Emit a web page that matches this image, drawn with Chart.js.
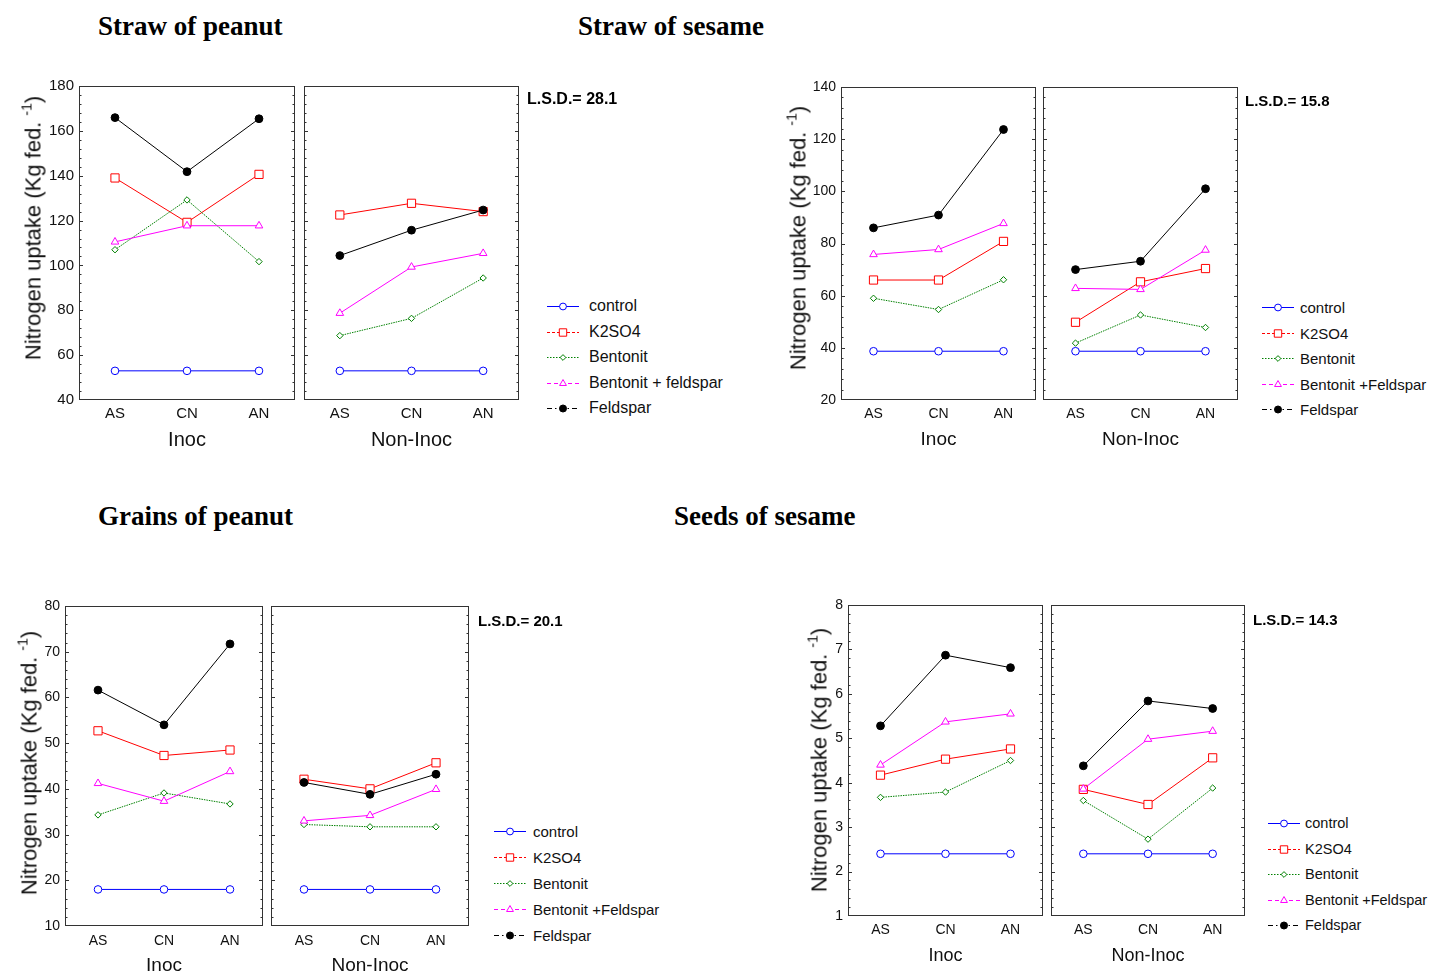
<!DOCTYPE html>
<html>
<head>
<meta charset="utf-8">
<script src="https://cdn.jsdelivr.net/npm/chart.js@4/dist/chart.umd.min.js"></script>
<style>
  body { margin: 0; background: #fff; width: 1435px; height: 974px; position: relative; overflow: hidden;
         font-family: "Liberation Sans", Arial, sans-serif; color: #111; }
  .title { position: absolute; font-family: "Liberation Serif", "Times New Roman", serif; font-weight: bold;
           font-size: 27px; line-height: 1; transform: translateY(-50%); white-space: nowrap; color: #000; }
  .ytitle { position: absolute; transform: translate(-50%, -50%) rotate(-90deg); white-space: nowrap;
            font-size: 22px; line-height: 1; }
  .ytitle sup { font-size: 14px; vertical-align: 9px; }
  .lsd { position: absolute; font-weight: bold; transform: translateY(-50%); white-space: nowrap; color: #000; }
  .leg { position: absolute; white-space: nowrap; line-height: 1; }
  .leg span { position: absolute; transform: translateY(-50%); }
  canvas.plot { position: absolute; }
</style>
</head>
<body>
<script>
// categories on the x axis of every sub-panel
const categories = ['AS', 'CN', 'AN'];
const groupLabels = ['Inoc', 'Non-Inoc'];

// legend names (first panel writes the mix a bit differently)
const namesPeanutStraw = ['control', 'K2SO4', 'Bentonit', 'Bentonit + feldspar', 'Feldspar'];
const namesOther = ['control', 'K2SO4', 'Bentonit', 'Bentonit +Feldspar', 'Feldspar'];

// values: Inoc AS, CN, AN  then  Non-Inoc AS, CN, AN
// Straw of peanut
const peanutStrawControl  = [53, 53, 53, 53, 53, 53];
const peanutStrawK2SO4    = [139, 119.2, 140.6, 122.5, 127.7, 124];
const peanutStrawBentonit = [107, 129.2, 101.7, 68.7, 76.4, 94.4];
const peanutStrawBentFeld = [110.5, 117.7, 117.7, 78.7, 99.3, 105.4];
const peanutStrawFeldspar = [165.9, 141.8, 165.4, 104.4, 115.7, 124.7];
const peanutStrawTicks = [40, 60, 80, 100, 120, 140, 160, 180];

// Straw of sesame
const sesameStrawControl  = [38.7, 38.7, 38.7, 38.7, 38.7, 38.7];
const sesameStrawK2SO4    = [66, 66, 80.8, 49.8, 65.3, 70.4];
const sesameStrawBentonit = [59, 54.7, 66.1, 41.8, 52.6, 47.8];
const sesameStrawBentFeld = [75.8, 77.7, 87.7, 62.8, 62.4, 77.5];
const sesameStrawFeldspar = [86, 90.9, 123.7, 70, 73.2, 101];
const sesameStrawTicks = [20, 40, 60, 80, 100, 120, 140];

// Grains of peanut
const peanutGrainControl  = [18, 18, 18, 18, 18, 18];
const peanutGrainK2SO4    = [52.7, 47.3, 48.5, 42.1, 40, 45.7];
const peanutGrainBentonit = [34.3, 39.1, 36.7, 32.2, 31.7, 31.7];
const peanutGrainBentFeld = [41.2, 37.3, 43.8, 33, 34.2, 39.9];
const peanutGrainFeldspar = [61.6, 54, 71.7, 41.4, 38.8, 43.2];
const peanutGrainTicks = [10, 20, 30, 40, 50, 60, 70, 80];

// Seeds of sesame
const sesameSeedControl  = [2.4, 2.4, 2.4, 2.4, 2.4, 2.4];
const sesameSeedK2SO4    = [4.17, 4.53, 4.76, 3.85, 3.51, 4.56];
const sesameSeedBentonit = [3.67, 3.79, 4.5, 3.6, 2.73, 3.88];
const sesameSeedBentFeld = [4.4, 5.37, 5.55, 3.86, 4.98, 5.16];
const sesameSeedFeldspar = [5.28, 6.87, 6.59, 4.38, 5.84, 5.67];
const sesameSeedTicks = [1, 2, 3, 4, 5, 6, 7, 8];

const FONT = '"Liberation Sans", Arial, sans-serif';

const seriesStyles = [
  { color: '#0000ff', point: 'circle',   fill: '#ffffff', r: 3.8, dash: [],       legendDash: [] },
  { color: '#ff0000', point: 'rect',     fill: '#ffffff', r: 5.8, dash: [],       legendDash: [3, 2] },
  { color: '#008000', point: 'rectRot',  fill: '#ffffff', r: 3.2, dash: [1.5, 1], legendDash: [1.5, 1.5] },
  { color: '#ff00ff', point: 'triangle', fill: '#ffffff', r: 4.4, dash: [],       legendDash: [4, 3] },
  { color: '#000000', point: 'circle',   fill: '#000000', r: 3.9, dash: [],       legendDash: [5, 3, 1.5, 3] },
];

const panels = [
  {
    title: 'Straw of peanut', titleX: 98, titleY: 26,
    lsd: 'L.S.D.= 28.1', lsdX: 527, lsdY: 99, lsdSize: 16,
    ytitleX: 32, ytitleY: 228,
    boxes: [{ x: 79, y: 86, w: 216, h: 314 }, { x: 304, y: 86, w: 215, h: 314 }],
    ticks: peanutStrawTicks, tickSize: 15, xTickOff: 14, xTitleSize: 20, xTitleOff: 40,
    names: namesPeanutStraw,
    legend: { x: 546, tx: 589, y: 306, dy: 25.5, size: 16 },
    series: [peanutStrawControl, peanutStrawK2SO4, peanutStrawBentonit, peanutStrawBentFeld, peanutStrawFeldspar],
  },
  {
    title: 'Straw of sesame', titleX: 578, titleY: 26,
    lsd: 'L.S.D.= 15.8', lsdX: 1245, lsdY: 100, lsdSize: 15,
    ytitleX: 797, ytitleY: 238,
    boxes: [{ x: 841, y: 87, w: 195, h: 313 }, { x: 1043, y: 87, w: 195, h: 313 }],
    ticks: sesameStrawTicks, tickSize: 14, xTickOff: 14, xTitleSize: 19, xTitleOff: 40,
    names: namesOther,
    legend: { x: 1261, tx: 1300, y: 307, dy: 25.5, size: 15 },
    series: [sesameStrawControl, sesameStrawK2SO4, sesameStrawBentonit, sesameStrawBentFeld, sesameStrawFeldspar],
  },
  {
    title: 'Grains of peanut', titleX: 98, titleY: 516,
    lsd: 'L.S.D.= 20.1', lsdX: 478, lsdY: 620, lsdSize: 15,
    ytitleX: 28, ytitleY: 763,
    boxes: [{ x: 65, y: 606, w: 198, h: 320 }, { x: 271, y: 606, w: 198, h: 320 }],
    ticks: peanutGrainTicks, tickSize: 14, xTickOff: 15, xTitleSize: 19, xTitleOff: 40,
    names: namesOther,
    legend: { x: 493, tx: 533, y: 831, dy: 26, size: 15 },
    series: [peanutGrainControl, peanutGrainK2SO4, peanutGrainBentonit, peanutGrainBentFeld, peanutGrainFeldspar],
  },
  {
    title: 'Seeds of sesame', titleX: 674, titleY: 516,
    lsd: 'L.S.D.= 14.3', lsdX: 1253, lsdY: 619, lsdSize: 15,
    ytitleX: 818, ytitleY: 760,
    boxes: [{ x: 848, y: 605, w: 195, h: 311 }, { x: 1051, y: 605, w: 194, h: 311 }],
    ticks: sesameSeedTicks, tickSize: 14, xTickOff: 14, xTitleSize: 18, xTitleOff: 40,
    names: namesOther,
    legend: { x: 1267, tx: 1305, y: 823, dy: 25.5, size: 14.5 },
    series: [sesameSeedControl, sesameSeedK2SO4, sesameSeedBentonit, sesameSeedBentFeld, sesameSeedFeldspar],
  },
];

// frame around the plot area with inward ticks on left and right edges
const framePlugin = {
  id: 'frame',
  beforeDatasetsDraw(chart, args, opts) {
    const { ctx, chartArea: a, scales: { y } } = chart;
    ctx.save();
    ctx.strokeStyle = '#333';
    ctx.lineWidth = 1;
    ctx.strokeRect(Math.round(a.left) + 0.5, Math.round(a.top) + 0.5,
                   Math.round(a.width) - 1, Math.round(a.height) - 1);
    const minor = opts.step / 5;
    const n = Math.round((y.max - y.min) / minor);
    ctx.beginPath();
    for (let k = 1; k < n; k++) {
      const py = Math.round(y.getPixelForValue(y.min + k * minor)) + 0.5;
      const len = k % 5 === 0 ? 4 : 2.5;
      ctx.moveTo(a.left, py); ctx.lineTo(a.left + len, py);
      ctx.moveTo(a.right, py); ctx.lineTo(a.right - len, py);
    }
    ctx.stroke();
    ctx.restore();
  }
};

// keep the plot area exactly where the box is: no extra label padding
function noPad(s) {
  s.paddingLeft = 0; s.paddingRight = 0; s.paddingTop = 0; s.paddingBottom = 0;
}

function chartConfig(p, side, padL, padT, padR, padB) {
  const isLeft = side === 0;
  const ticks = p.ticks;
  const datasets = p.series.map((vals, i) => {
    const st = seriesStyles[i];
    return {
      label: p.names[i],
      data: vals.slice(side * 3, side * 3 + 3),
      borderColor: st.color,
      borderWidth: 1,
      borderDash: st.dash,
      pointStyle: st.point,
      pointRadius: st.r,
      pointBorderWidth: 1,
      pointBorderColor: st.color,
      pointBackgroundColor: st.fill,
      tension: 0,
      order: 5 - i,
    };
  });
  return {
    type: 'line',
    data: { labels: categories, datasets },
    options: {
      responsive: false,
      maintainAspectRatio: false,
      animation: false,
      events: [],
      layout: { padding: { top: padT, right: padR, left: 0, bottom: 0 } },
      plugins: {
        legend: { display: false },
        tooltip: { enabled: false },
        frame: { step: ticks[1] - ticks[0] },
      },
      scales: {
        x: {
          type: 'category',
          offset: true,
          grid: { display: false, drawTicks: false },
          border: { display: false },
          ticks: {
            font: { family: FONT, size: p.tickSize },
            color: '#111',
            padding: p.xTickOff - p.tickSize * 0.6,
            maxRotation: 0,
            autoSkip: false,
          },
          title: {
            display: true,
            text: groupLabels[side],
            font: { family: FONT, size: p.xTitleSize },
            color: '#111',
            padding: { top: 0, bottom: padB - p.xTitleOff - p.xTitleSize * 0.6 },
          },
          afterFit: s => { s.height = padB; noPad(s); },
        },
        y: {
          min: ticks[0],
          max: ticks[ticks.length - 1],
          grid: { display: false, drawTicks: false },
          border: { display: false },
          ticks: {
            display: isLeft,
            stepSize: ticks[1] - ticks[0],
            font: { family: FONT, size: p.tickSize },
            color: '#111',
            padding: 5,
          },
          afterFit: s => { s.width = padL; noPad(s); },
        },
      },
    },
    plugins: [framePlugin],
  };
}

function makeChart(p, side) {
  const box = p.boxes[side];
  const padL = side === 0 ? 75 : 14, padT = 14, padR = 10, padB = 64;
  const canvas = document.createElement('canvas');
  canvas.className = 'plot';
  document.body.appendChild(canvas);

  const build = (cw, ch) => {
    canvas.width = cw; canvas.height = ch;
    canvas.style.width = cw + 'px';
    canvas.style.height = ch + 'px';
    return new Chart(canvas, chartConfig(p, side, padL, padT, padR, padB));
  };

  const w = box.w + padL + padR, h = box.h + padT + padB;
  let chart = build(w, h);
  let a = chart.chartArea;
  // rebuild bigger if the plot area came out smaller than the box
  const dw = Math.round(box.w - a.width), dh = Math.round(box.h - a.height);
  if (dw !== 0 || dh !== 0) {
    chart.destroy();
    chart = build(w + dw, h + dh);
    a = chart.chartArea;
  }
  // place the canvas so the drawn frame lands on the box position
  canvas.style.left = (box.x - Math.round(a.left)) + 'px';
  canvas.style.top = (box.y - Math.round(a.top)) + 'px';
}

function addDiv(cls, html, css) {
  const d = document.createElement('div');
  d.className = cls;
  d.innerHTML = html;
  Object.assign(d.style, css);
  document.body.appendChild(d);
  return d;
}

function makeLegend(p) {
  const L = p.legend;
  p.names.forEach((name, i) => {
    const st = seriesStyles[i];
    const cy = L.y + i * L.dy;
    const c = document.createElement('canvas');
    c.width = 34; c.height = 16;
    c.style.left = L.x + 'px';
    c.style.top = (cy - 8) + 'px';
    c.style.position = 'absolute';
    const ctx = c.getContext('2d');
    ctx.strokeStyle = st.color;
    ctx.lineWidth = 1;
    ctx.setLineDash(st.legendDash);
    ctx.beginPath(); ctx.moveTo(1, 8.5); ctx.lineTo(33, 8.5); ctx.stroke();
    ctx.setLineDash([]);
    ctx.fillStyle = st.fill;
    Chart.helpers.drawPoint(ctx, { pointStyle: st.point, radius: st.r * 0.9, borderWidth: 1 }, 17, 8.5);
    document.body.appendChild(c);
    addDiv('leg', '<span>' + name + '</span>', { left: L.tx + 'px', top: cy + 'px', fontSize: L.size + 'px' });
  });
}

panels.forEach(p => {
  makeChart(p, 0);
  makeChart(p, 1);
  addDiv('title', p.title, { left: p.titleX + 'px', top: p.titleY + 'px' });
  addDiv('lsd', p.lsd, { left: p.lsdX + 'px', top: p.lsdY + 'px', fontSize: p.lsdSize + 'px' });
  addDiv('ytitle', 'Nitrogen uptake (Kg fed. <sup>-1</sup>)', { left: p.ytitleX + 'px', top: p.ytitleY + 'px' });
  makeLegend(p);
});
</script>
</body>
</html>
